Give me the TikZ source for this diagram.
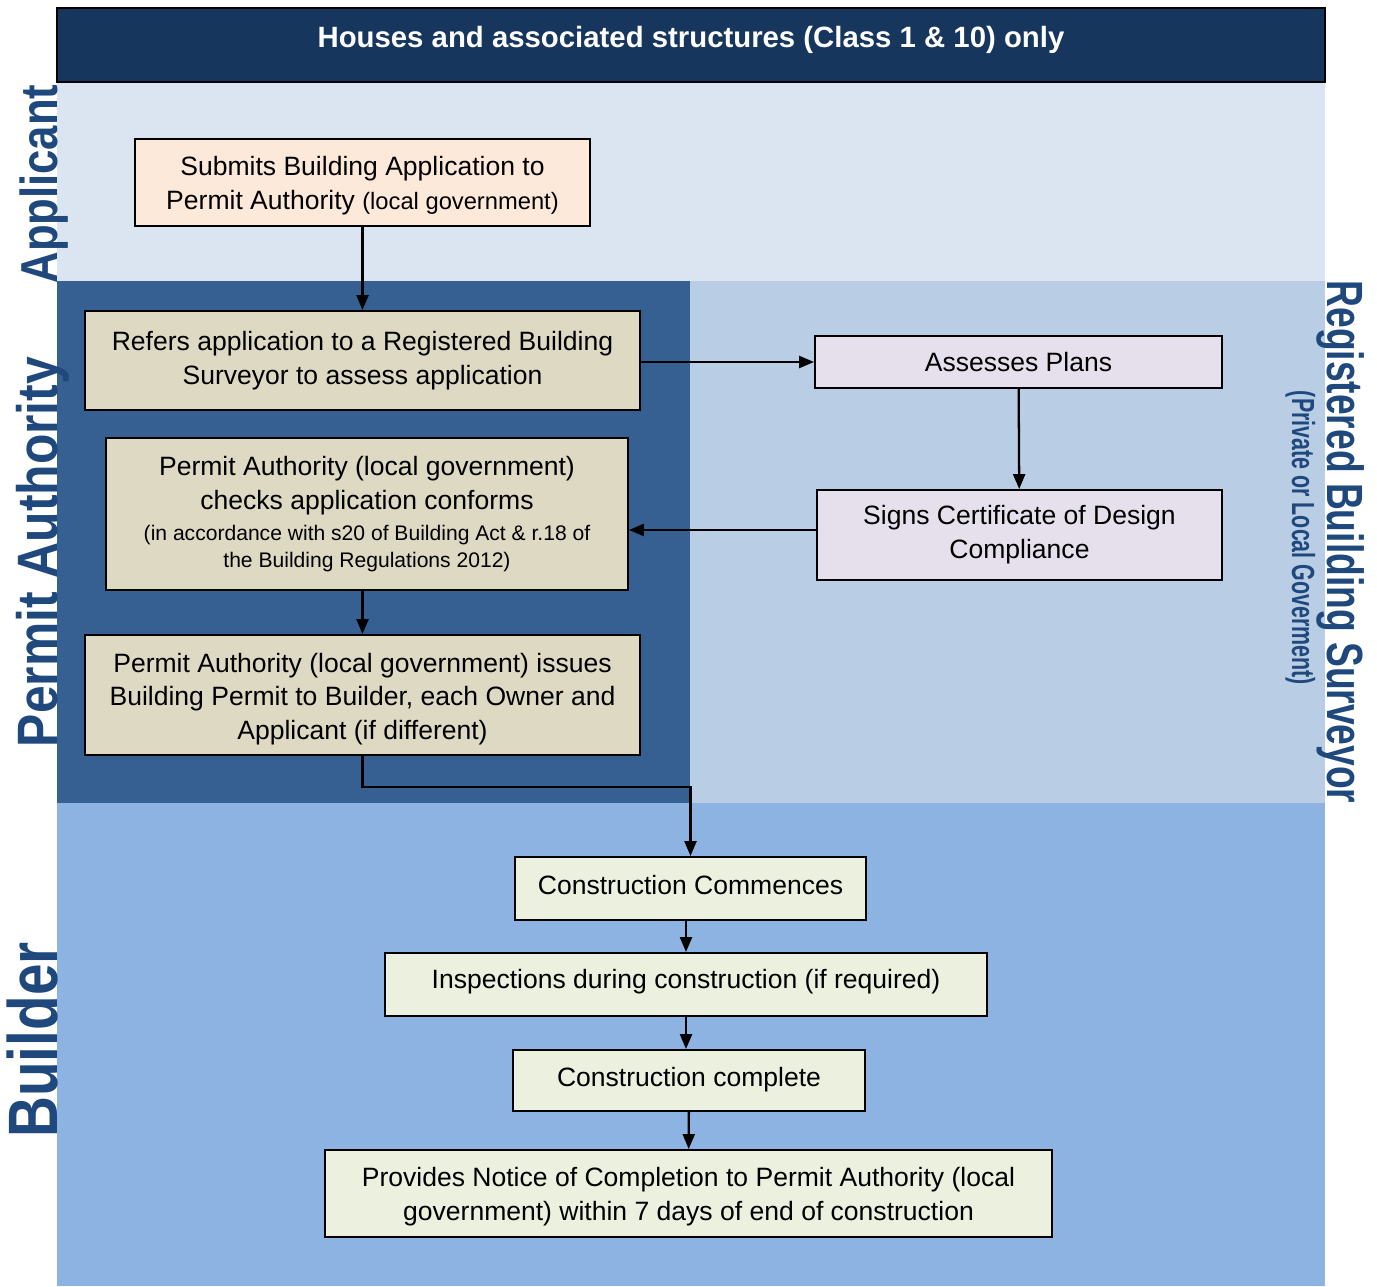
\documentclass[tikz,border=0pt]{standalone}
\usepackage{fontspec}
\setmainfont{Liberation Sans}
\usepackage{xcolor}
\usepackage{tikz}
\usetikzlibrary{arrows.meta}
\definecolor{navy}{RGB}{23,54,93}
\definecolor{applane}{RGB}{219,229,241}
\definecolor{permlane}{RGB}{54,96,146}
\definecolor{survlane}{RGB}{185,205,229}
\definecolor{buildlane}{RGB}{141,179,226}
\definecolor{lanetext}{RGB}{31,73,125}
\definecolor{peach}{RGB}{253,233,217}
\definecolor{tan}{RGB}{221,217,195}
\definecolor{lilac}{RGB}{229,224,236}
\definecolor{mint}{RGB}{235,241,222}
\newcommand{\smalltxt}{\fontsize{12}{15.4}\selectfont}

\begin{document}
\begin{tikzpicture}[x=0.02cm, y=-0.02cm,
    stage/.style={draw=black, line width=1.1pt, align=center, inner sep=0pt,
        font=\fontsize{15.1}{19.3}\selectfont},
    link/.style={line width=1.3pt, -{Triangle[length=0.3cm,width=0.24cm]}},
    lane/.style={inner sep=0pt, text=lanetext, anchor=base}]
    \useasboundingbox (0,0) rectangle (1377,1286);
    % swim lanes
    \fill[applane] (57,82) rectangle (1325,281);
    \fill[permlane] (57,281) rectangle (690,803);
    \fill[survlane] (690,281) rectangle (1325,803);
    \fill[buildlane] (57,803) rectangle (1325,1286);
    \draw[fill=navy, line width=1.1pt] (57,8) rectangle (1325,82);
    \node[anchor=base, text=white, inner sep=0pt,
        font=\fontsize{16.7}{19}\selectfont\bfseries] (title) at (691,47)
        {Houses and associated structures (Class 1 \& 10) only};
    % lane labels
    \node[lane, rotate=90, font=\fontsize{29.6}{30}\selectfont\bfseries] (lapp) at (57,184)
        {\scalebox{0.84}[1]{Applicant}};
    \node[lane, rotate=90, font=\fontsize{32.4}{33}\selectfont\bfseries] (lperm) at (57,552)
        {\scalebox{0.875}[1]{Permit Authority}};
    \node[lane, rotate=90, font=\fontsize{39.8}{40}\selectfont\bfseries] (lbuild) at (57,1040)
        {\scalebox{0.81}[1]{Builder}};
    \node[lane, rotate=-90, font=\fontsize{29}{30}\selectfont\bfseries] (lsurv) at (1327,542)
        {\scalebox{0.73}[1]{Registered Building Surveyor}};
    \node[lane, rotate=-90, font=\fontsize{18.2}{19}\selectfont\bfseries] (lpriv) at (1292,538)
        {\scalebox{0.67}[1]{(Private or Local Goverment)}};
    % applicant
    \node[stage, fill=peach, minimum width=9.1cm, minimum height=1.74cm] (submit) at (362.5,182.5)
        {\rule{0pt}{14.4pt}Submits Building Application to\\ Permit Authority {\fontsize{13.5}{19.3}\selectfont(local government)}};
    % permit authority
    \node[stage, fill=tan, minimum width=11.1cm, minimum height=1.98cm] (refer) at (362.5,360.5)
        {Refers application to a Registered Building\\ Surveyor to assess application};
    \node[stage, fill=tan, minimum width=10.44cm, minimum height=3.04cm] (check) at (367,514)
        {Permit Authority (local government)\\ checks application conforms\\[-1.7pt]
        {\smalltxt (in accordance with s20 of Building Act \& r.18 of}\\[-4pt]
        {\smalltxt the Building Regulations 2012)}};
    \node[stage, fill=tan, minimum width=11.1cm, minimum height=2.4cm] (issue) at (362.5,695)
        {\rule{0pt}{15.6pt}Permit Authority (local government) issues\\ Building Permit to Builder, each Owner and\\ Applicant (if different)};
    % registered building surveyor
    \node[stage, fill=lilac, minimum width=8.14cm, minimum height=1.04cm] (assess) at (1018.5,362)
        {Assesses Plans};
    \node[stage, fill=lilac, minimum width=8.1cm, minimum height=1.8cm] (sign) at (1019.5,535)
        {Signs Certificate of Design\\ Compliance};
    % builder
    \node[stage, fill=mint, minimum width=7.02cm, minimum height=1.26cm] (start) at (690.5,888.5)
        {Construction Commences\rule[-4.6pt]{0pt}{4.6pt}};
    \node[stage, fill=mint, minimum width=12.04cm, minimum height=1.26cm] (inspect) at (686,984.5)
        {Inspections during construction (if required)\rule[-6pt]{0pt}{6pt}};
    \node[stage, fill=mint, minimum width=7.04cm, minimum height=1.22cm] (done) at (689,1080.5)
        {Construction complete\rule[-4pt]{0pt}{4pt}};
    \node[stage, fill=mint, minimum width=14.54cm, minimum height=1.74cm] (notice) at (688.5,1193.5)
        {\rule{0pt}{14.4pt}Provides Notice of Completion to Permit Authority (local\\ government) within 7 days of end of construction};
    % connectors
    \draw[link] (submit) -- (refer);
    \draw[link] (refer.east |- assess) -- (assess.west);
    \draw[link] (assess) -- (sign);
    \draw[link] ([yshift=0.1cm]sign.west) -- ([yshift=0.1cm]sign.west -| check.east);
    \draw[link] (check.south -| issue) -- (issue.north);
    \draw[link] (issue.south) -- ++(0,31) -| (start.north);
    \draw[link] (start.south -| inspect) -- (inspect.north);
    \draw[link] (inspect.south) -- (inspect.south |- done.north);
    \draw[link] (done) -- (notice);
\end{tikzpicture}
\end{document}
